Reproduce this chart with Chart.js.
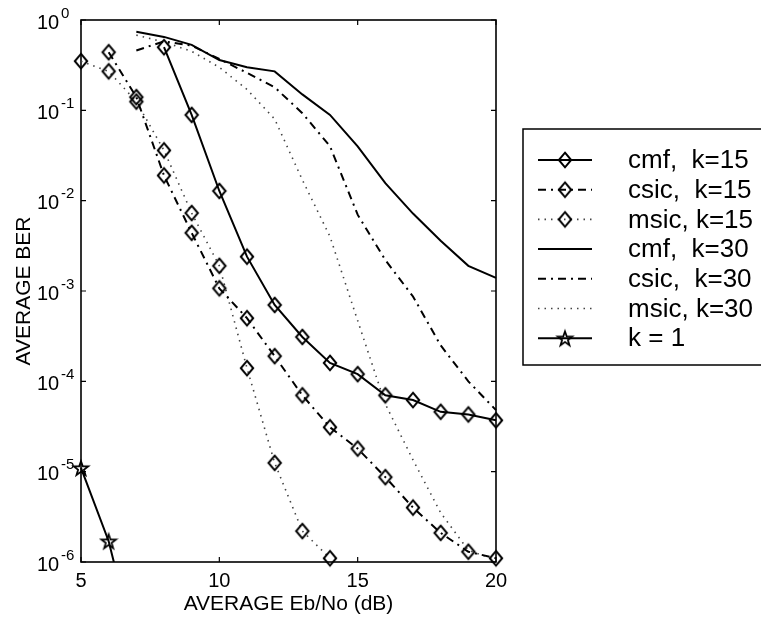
<!DOCTYPE html>
<html>
<head>
<meta charset="utf-8">
<script src="https://cdn.jsdelivr.net/npm/chart.js@4.4.1/dist/chart.umd.min.js"></script>
<style>
  html, body { margin: 0; padding: 0; background: #fff; overflow: hidden; }
  canvas { display: block; }
</style>
</head>
<body>
<canvas id="ber" width="761" height="619"></canvas>
<script>
// Eb/No grid (dB) shared by every curve; null = not simulated
const snrDb = [5, 6, 7, 8, 9, 10, 11, 12, 13, 14, 15, 16, 17, 18, 19, 20];

// average BER, K = 15 users
const cmfK15  = [null, null, null, 0.5, 0.089, 0.0128, 0.0024, 7.0e-4, 3.1e-4, 1.6e-4, 1.2e-4, 7.0e-5, 6.2e-5, 4.6e-5, 4.3e-5, 3.7e-5];
const csicK15 = [null, 0.44, 0.14, 0.019, 0.0044, 0.00107, 5.0e-4, 1.9e-4, 7.0e-5, 3.1e-5, 1.8e-5, 8.7e-6, 4.0e-6, 2.1e-6, 1.3e-6, 1.1e-6];
const msicK15 = [0.35, 0.27, 0.125, 0.036, 0.0073, 0.0019, 1.4e-4, 1.25e-5, 2.2e-6, 1.1e-6, null, null, null, null, null, null];

// average BER, K = 30 users
const cmfK30  = [null, null, 0.74, 0.65, 0.53, 0.36, 0.30, 0.27, 0.15, 0.089, 0.040, 0.0156, 0.0072, 0.0036, 0.0019, 0.0014];
const csicK30 = [null, null, 0.46, 0.58, 0.52, 0.37, 0.26, 0.18, 0.093, 0.040, 0.0070, 0.0022, 8.7e-4, 2.5e-4, 1.0e-4, 4.8e-5];
const msicK30 = [null, null, 0.68, 0.57, 0.45, 0.30, 0.17, 0.080, 0.017, 0.0040, 4.7e-4, 5.6e-5, 1.35e-5, 3.5e-6, 1.35e-6, 1.05e-6];

// single-user bound
const singleUser = [1.1e-5, 1.7e-6, 1.0e-7, null, null, null, null, null, null, null, null, null, null, null, null, null];

const seriesLabels = ['cmf,  k=15', 'csic,  k=15', 'msic, k=15', 'cmf,  k=30', 'csic,  k=30', 'msic, k=30', 'k = 1'];

// axis ticks
const xTickValues = [5, 10, 15, 20];
const yTickExponents = [0, -1, -2, -3, -4, -5, -6];

const xAxisTitle = 'AVERAGE Eb/No (dB)';
const yAxisTitle = 'AVERAGE BER';

const FONT = '"Liberation Sans", Arimo, Arial, Helvetica, sans-serif';

// ---- marker glyphs ----
function diamondGlyph() {
  const w = 18, h = 20;
  const c = document.createElement('canvas');
  c.width = w; c.height = h;
  const g = c.getContext('2d');
  g.translate(w / 2, h / 2);
  g.beginPath();
  g.moveTo(0, -7.3);
  g.lineTo(6.2, 0);
  g.lineTo(0, 7.3);
  g.lineTo(-6.2, 0);
  g.closePath();
  g.lineWidth = 2;
  g.strokeStyle = '#000';
  g.lineJoin = 'miter';
  g.stroke();
  return c;
}

function pentagramGlyph() {
  const s = 20, r = 7.6;
  const c = document.createElement('canvas');
  c.width = s; c.height = s;
  const g = c.getContext('2d');
  g.translate(s / 2, s / 2 + 0.8);
  g.beginPath();
  for (let i = 0; i < 10; i++) {
    const a = -Math.PI / 2 + i * Math.PI / 5;
    const rr = (i % 2) ? r * 0.4 : r;
    g.lineTo(rr * Math.cos(a), rr * Math.sin(a));
  }
  g.closePath();
  g.lineWidth = 1.8;
  g.strokeStyle = '#000';
  g.stroke();
  return c;
}

const diamond = diamondGlyph();
const star = pentagramGlyph();

function toPoints(values) {
  return snrDb.map((x, i) => ({ x: x, y: values[i] }));
}

const SOLID = [];
const DASH_DOT = [8, 5, 2, 5];
const DOTTED = [1.5, 5];

function series(label, values, dash, marker, width, color) {
  return {
    label: label,
    data: toPoints(values),
    borderColor: color || '#000',
    borderWidth: width || 2,
    borderDash: dash,
    pointStyle: marker || false,
    pointRadius: marker ? 7 : 0,
    pointHoverRadius: marker ? 7 : 0,
    pointBackgroundColor: 'rgba(0,0,0,0)',
    pointBorderColor: '#000',
    fill: false,
    tension: 0,
    spanGaps: false,
    clip: { left: 12, right: 12, top: 12, bottom: 12 }
  };
}

const datasets = [
  series(seriesLabels[0], cmfK15, SOLID, diamond, 2),
  series(seriesLabels[1], csicK15, DASH_DOT, diamond, 2),
  series(seriesLabels[2], msicK15, DOTTED, diamond, 1.6, '#444'),
  series(seriesLabels[3], cmfK30, SOLID, null, 2),
  series(seriesLabels[4], csicK30, DASH_DOT, null, 2),
  series(seriesLabels[5], msicK30, DOTTED, null, 1.6, '#444'),
  series(seriesLabels[6], singleUser, SOLID, star, 2)
];
// the single-user curve runs off the bottom of the axes
datasets[6].clip = { left: 12, right: 12, top: 12, bottom: 0 };

// ---- axes box, ticks, labels, legend ----
const matlabAxes = {
  id: 'matlabAxes',
  beforeDatasetsDraw(chart) {
    const { ctx, chartArea: a, scales } = chart;
    const xs = scales.x, ys = scales.y;
    ctx.save();
    ctx.strokeStyle = '#000';
    ctx.lineWidth = 1.6;
    ctx.setLineDash([]);
    ctx.strokeRect(a.left, a.top, a.right - a.left, a.bottom - a.top);
    const tl = 5;
    ctx.lineWidth = 1.2;
    ctx.beginPath();
    xTickValues.forEach(v => {
      const px = xs.getPixelForValue(v);
      ctx.moveTo(px, a.bottom); ctx.lineTo(px, a.bottom - tl);
      ctx.moveTo(px, a.top); ctx.lineTo(px, a.top + tl);
    });
    yTickExponents.forEach(e => {
      const py = ys.getPixelForValue(Math.pow(10, e));
      ctx.moveTo(a.left, py); ctx.lineTo(a.left + tl, py);
      ctx.moveTo(a.right, py); ctx.lineTo(a.right - tl, py);
    });
    ctx.stroke();
    ctx.restore();
  },
  afterDraw(chart) {
    const { ctx, chartArea: a, scales } = chart;
    const xs = scales.x, ys = scales.y;
    ctx.save();
    ctx.fillStyle = '#000';

    // x tick labels
    ctx.font = '20px ' + FONT;
    ctx.textAlign = 'center';
    ctx.textBaseline = 'alphabetic';
    xTickValues.forEach(v => {
      ctx.fillText(String(v), xs.getPixelForValue(v), a.bottom + 25);
    });

    // y tick labels: 10 with a raised exponent
    yTickExponents.forEach(e => {
      const py = ys.getPixelForValue(Math.pow(10, e));
      ctx.textAlign = 'left';
      ctx.font = '20px ' + FONT;
      ctx.fillText('10', 37, py + 8.5);
      ctx.font = '15px ' + FONT;
      ctx.fillText(e === 0 ? '0' : '-' + (-e), 61, py - 2.5);
    });

    // axis titles
    ctx.font = '21px ' + FONT;
    ctx.textAlign = 'center';
    ctx.fillText(xAxisTitle, (a.left + a.right) / 2, 610);
    ctx.save();
    ctx.translate(30, (a.top + a.bottom) / 2);
    ctx.rotate(-Math.PI / 2);
    ctx.fillText(yAxisTitle, 0, 0);
    ctx.restore();

    // legend
    const box = { left: 523, top: 129, right: 763, bottom: 365 };
    ctx.lineWidth = 1.5;
    ctx.strokeStyle = '#000';
    ctx.strokeRect(box.left, box.top, box.right - box.left, box.bottom - box.top);
    const rowTop = 160, rowStep = 29.7;
    const x0 = 538, x1 = 592, xm = 565;
    chart.data.datasets.forEach((ds, i) => {
      const y = rowTop + i * rowStep;
      ctx.save();
      ctx.strokeStyle = ds.borderColor;
      ctx.lineWidth = ds.borderWidth;
      ctx.setLineDash(ds.borderDash || []);
      ctx.beginPath();
      ctx.moveTo(x0, y); ctx.lineTo(x1, y);
      ctx.stroke();
      ctx.restore();
      if (ds.pointStyle) {
        const img = ds.pointStyle;
        ctx.drawImage(img, xm - img.width / 2, y - img.height / 2);
      }
      ctx.font = '26px ' + FONT;
      ctx.textAlign = 'left';
      ctx.textBaseline = 'middle';
      ctx.fillText(ds.label, 628, y + 1);
      ctx.textBaseline = 'alphabetic';
    });
    ctx.restore();
  }
};

Chart.defaults.font.family = FONT;
Chart.defaults.color = '#000';

new Chart(document.getElementById('ber'), {
  type: 'line',
  data: { datasets: datasets },
  options: {
    responsive: false,
    animation: false,
    devicePixelRatio: 1,
    layout: { padding: { left: 81, right: 265, top: 20, bottom: 57 } },
    plugins: {
      legend: { display: false },
      tooltip: { enabled: false },
      title: { display: false }
    },
    scales: {
      x: { type: 'linear', min: 5, max: 20, display: false },
      y: { type: 'logarithmic', min: 1e-6, max: 1, display: false }
    }
  },
  plugins: [matlabAxes]
});
</script>
</body>
</html>
